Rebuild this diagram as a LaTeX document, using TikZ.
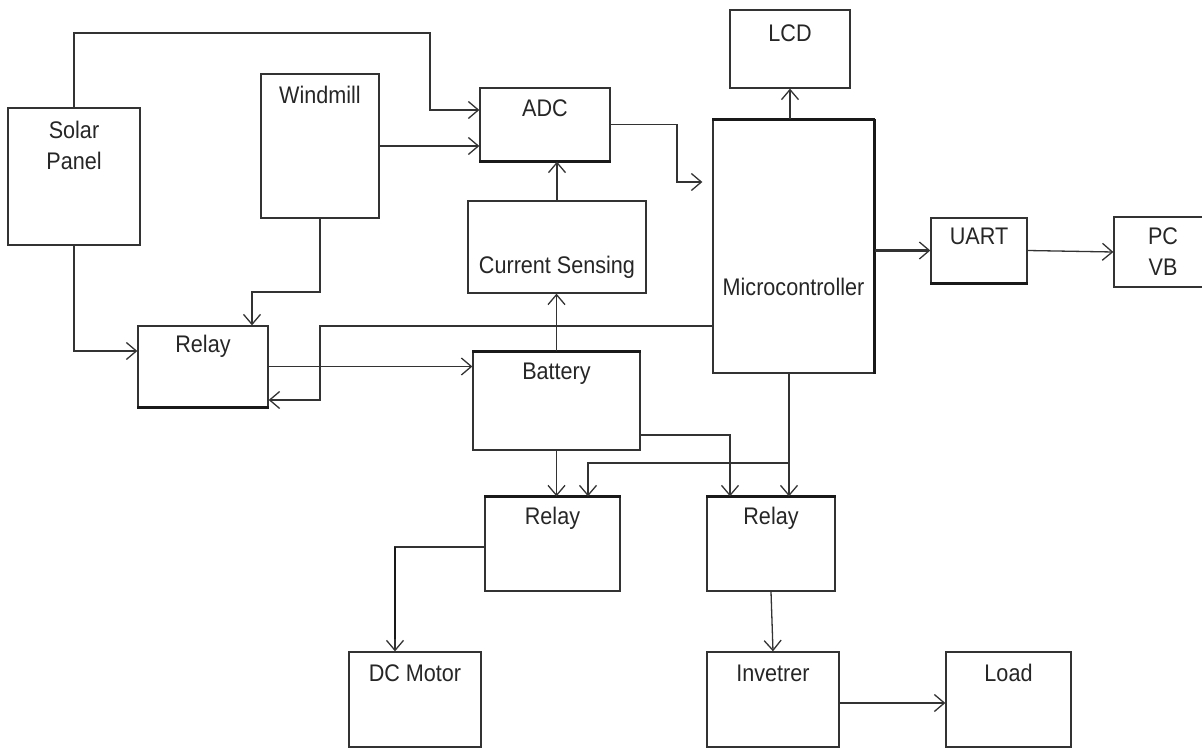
\documentclass[tikz,border=0pt]{standalone}
\usepackage{fontspec}
\usepackage{tikz}
\usetikzlibrary{calc}
\usetikzlibrary{arrows.meta}
\newfontfamily\blkfont[FakeStretch=0.9]{Liberation Sans}
\tikzset{
  blk/.style={draw=black!80, line width=1.3pt, inner sep=0pt},
  txt/.style={anchor=north, inner sep=0pt, align=center, text=black!85,
    font=\blkfont\fontsize{24}{31}\selectfont},
  arr/.style={draw=black!80, line width=1.3pt, -{Straight Barb[length=10pt,width=17pt,line width=1.3pt]}},
  heavy/.style={line width=2.4pt},
  edge/.style={draw=black!90, line width=2.8pt}
}

\begin{document}
\begin{tikzpicture}[x=1pt, y=-1pt]
    \useasboundingbox (0,0) rectangle (1202,749);
    % blocks
    \node[blk, minimum width=132, minimum height=137, label={[txt,yshift=-14pt,align=center]north:Solar\\Panel}] (solar) at (74,176.5) {};
    \node[blk, minimum width=118, minimum height=144, label={[txt,yshift=-13pt]north:Windmill}] (wind) at (320,146) {};
    \node[blk, minimum width=130, minimum height=73, label={[txt,yshift=-12pt]north:ADC}] (adc) at (545,124.5) {};
    \node[blk, minimum width=120, minimum height=78, label={[txt,yshift=-15pt]north:LCD}] (lcd) at (790,49) {};
    \node[blk, minimum width=178, minimum height=92, label={[txt,anchor=base,yshift=-20pt]center:Current Sensing}] (cur) at (557,247) {};
    \node[blk, minimum width=161, minimum height=253, label={[txt,anchor=base,yshift=-40pt]center:Microcontroller}] (micro) at (793.5,246.5) {};
    \node[blk, minimum width=96, minimum height=65, label={[txt,yshift=-10pt]north:UART}] (uart) at (979,250.5) {};
    \node[blk, minimum width=98, minimum height=70, label={[txt,yshift=-11pt]north:PC\\VB}] (pc) at (1163,252) {};
    \node[blk, minimum width=130, minimum height=81, label={[txt,yshift=-10pt]north:Relay}] (relay1) at (203,366.5) {};
    \node[blk, minimum width=167, minimum height=98, label={[txt,yshift=-11pt]north:Battery}] (batt) at (556.5,401) {};
    \node[blk, minimum width=135, minimum height=94, label={[txt,yshift=-11pt]north:Relay}] (relay2) at (552.5,544) {};
    \node[blk, minimum width=128, minimum height=94, label={[txt,yshift=-11pt]north:Relay}] (relay3) at (771,544) {};
    \node[blk, minimum width=132, minimum height=95, label={[txt,yshift=-13pt]north:DC Motor}] (dcm) at (415,699.5) {};
    \node[blk, minimum width=132, minimum height=95, label={[txt,yshift=-13pt]north:Invetrer}] (inv) at (773,699.5) {};
    \node[blk, minimum width=125, minimum height=95, label={[txt,yshift=-13pt]north:Load}] (load) at (1008.5,699.5) {};
    % heavier edges
    \foreach \n/\a/\b in {relay1/south west/south east, adc/south west/south east, uart/south west/south east,
      batt/north west/north east, relay2/north west/north east, relay3/north west/north east,
      micro/north west/north east, micro/north east/south east}
    \draw[edge] (\n.\a) -- (\n.\b);
    % sources
    \draw[arr] (solar.north) |- (430,33) |- ([yshift=14.5pt]adc.west);
    \draw[arr] (wind.east) -- (wind.east -| adc.west);
    \draw[arr] (wind.south) -- (320,292) -| ([xshift=49pt]relay1.north);
    \draw[arr] (solar.south) |- ([yshift=15.5pt]relay1.west);
    \draw[arr] (relay1.east) -- (relay1.east -| batt.west);
    \draw[arr] (micro.west |- 0,326) -| (320,400) -- ([yshift=-33.5pt]relay1.east);
    % sensing
    \draw[arr] (batt.north) -- (batt.north |- cur.south);
    \draw[arr] (cur.north) -- (cur.north |- adc.south);
    \draw[arr, shorten >=10pt] (adc.east) -| (677,182) -- (micro.west |- 0,182);
    % controller outputs
    \draw[arr] (lcd.south |- micro.north) -- (lcd.south);
    \draw[arr, heavy] (micro.east |- uart.west) -- (uart.west);
    \draw[arr] (uart.east) -- (pc.west);
    \draw[arr] ([xshift=18pt]relay3.north |- micro.south) -- ([xshift=18pt]relay3.north);
    \coordinate (mbr) at (789,463);
    \draw[arr] (mbr) -| ([xshift=35.5pt]relay2.north);
    % loads
    \draw[arr] (batt.south) -- (batt.south |- relay2.north);
    \draw[arr] ([yshift=-34pt]batt.east) -| ([xshift=-41pt]relay3.north);
    \draw[arr] ([yshift=-3pt]relay2.west) -| ([xshift=-20pt]dcm.north);
    \draw[heavy, draw=black!90] (395,547) -- ([xshift=-20pt,yshift=12pt]dcm.north);
    \draw[arr] (relay3.south) -- (inv.north);
    \draw[arr, heavy] (inv.east |- 0,703) -- (load.west |- 0,703);
\end{tikzpicture}
\end{document}
